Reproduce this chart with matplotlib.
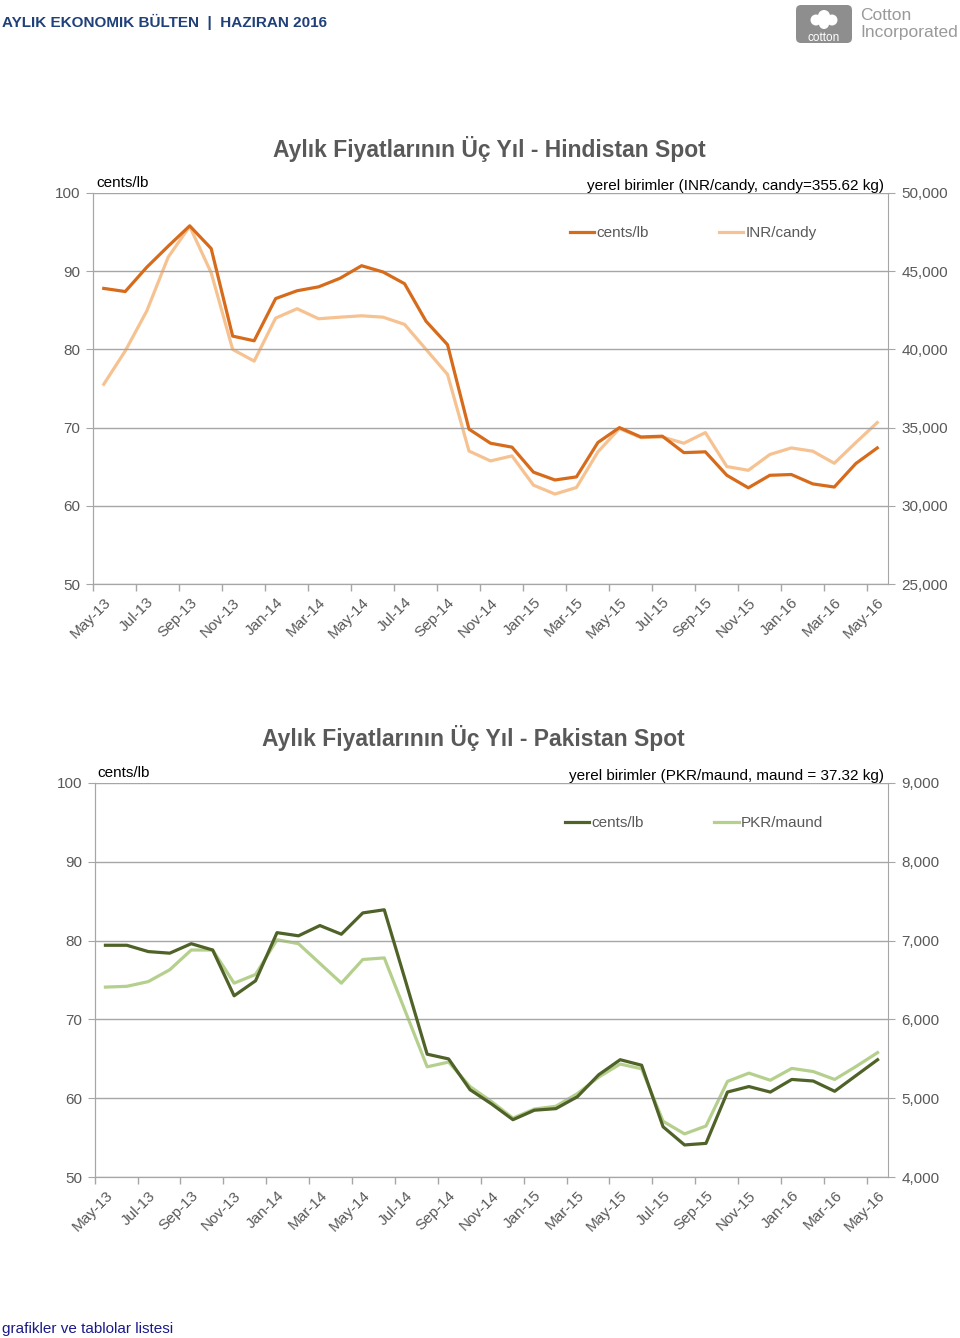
import numpy as np
import matplotlib.pyplot as plt
from matplotlib.patches import FancyBboxPatch, Circle
from matplotlib.ticker import FuncFormatter

plt.rcParams['font.family'] = ['Liberation Sans', 'DejaVu Sans']

months = ['May-13', 'Jun-13', 'Jul-13', 'Aug-13', 'Sep-13', 'Oct-13', 'Nov-13', 'Dec-13',
          'Jan-14', 'Feb-14', 'Mar-14', 'Apr-14', 'May-14', 'Jun-14', 'Jul-14', 'Aug-14',
          'Sep-14', 'Oct-14', 'Nov-14', 'Dec-14', 'Jan-15', 'Feb-15', 'Mar-15', 'Apr-15',
          'May-15', 'Jun-15', 'Jul-15', 'Aug-15', 'Sep-15', 'Oct-15', 'Nov-15', 'Dec-15',
          'Jan-16', 'Feb-16', 'Mar-16', 'Apr-16', 'May-16']

# India spot
india_cents = [87.8, 87.4, 90.5, 93.2, 95.8, 92.9, 81.7, 81.1, 86.5, 87.5, 88.0, 89.1,
               90.7, 89.9, 88.4, 83.6, 80.6, 69.8, 68.0, 67.5, 64.3, 63.3, 63.7, 68.1,
               70.0, 68.8, 68.9, 66.8, 66.9, 63.9, 62.3, 63.9, 64.0, 62.8, 62.4, 65.4, 67.4]
india_inr = [37770, 39900, 42450, 45900, 47870, 44900, 40000, 39250, 42000, 42600, 41960,
             42060, 42150, 42060, 41600, 40000, 38400, 33500, 32870, 33190, 31320, 30750,
             31170, 33450, 34940, 34360, 34400, 34000, 34680, 32510, 32270, 33280, 33700,
             33490, 32720, 34040, 35320]

# Pakistan spot
pak_cents = [79.4, 79.4, 78.6, 78.4, 79.6, 78.8, 73.0, 74.9, 81.0, 80.6, 81.9, 80.8,
             83.5, 83.9, 74.8, 65.6, 65.0, 61.1, 59.3, 57.3, 58.5, 58.7, 60.2, 63.0,
             64.9, 64.2, 56.4, 54.1, 54.3, 60.8, 61.5, 60.8, 62.4, 62.2, 60.9, 62.9, 64.9]
pak_pkr = [6410, 6420, 6480, 6630, 6880, 6880, 6460, 6570, 7010, 6960, 6710, 6460, 6760,
           6780, 6090, 5400, 5460, 5150, 4960, 4750, 4865, 4900, 5060, 5270, 5435, 5375,
           4710, 4550, 4650, 5215, 5320, 5230, 5380, 5340, 5240, 5405, 5580]

GRAY = '#595959'
GRID = '#a6a6a6'

fig = plt.figure(figsize=(9.6, 13.38), dpi=100)

# header and footer
fig.text(2 / 960, 1 - 22 / 1338, 'AYLIK EKONOMIK BÜLTEN  |  HAZIRAN 2016', fontsize=11,
         fontweight='bold', color='#20407a', va='center', ha='left')
fig.text(2 / 960, 1 - 1329 / 1338, 'grafikler ve tablolar listesi', fontsize=11,
         color='#1a1a8a', va='center', ha='left')

# logo
logo = fig.add_axes([795 / 960, 1 - 45 / 1338, 165 / 960, 42 / 1338])
logo.set_xlim(0, 165)
logo.set_ylim(0, 42)
logo.axis('off')
logo.add_patch(FancyBboxPatch((1, 2), 56, 38, boxstyle='round,pad=0,rounding_size=5',
                              fc='#8e8e8e', ec='none'))
for cx, cy, r in [(29, 29, 6), (21, 25, 5.5), (37, 25, 5.5), (29, 21, 5)]:
    logo.add_patch(Circle((cx, cy), r, fc='white', ec='none'))
logo.text(29, 7, 'cotton', fontsize=8.5, color='white', ha='center', va='center')
logo.text(65, 30, 'Cotton', fontsize=12.5, color='#9a9a9a', ha='left', va='center')
logo.text(65, 12, 'Incorporated', fontsize=12.5, color='#9a9a9a', ha='left', va='center')


def make_chart(rect, cents, local, title, local_label, legend_label, right_lim, right_step,
               c_dark, c_light, title_pos):
    x = np.arange(len(months))
    ax = fig.add_axes(rect)
    ax2 = ax.twinx()
    ax.set_zorder(ax2.get_zorder() + 1)
    ax.patch.set_visible(False)

    h1, = ax.plot(x, cents, color=c_dark, lw=2.3, zorder=3)
    h2, = ax2.plot(x, local, color=c_light, lw=2.3, zorder=2)

    ax.set_xlim(-0.5, len(months) - 0.5)
    ax.set_ylim(50, 100)
    ax.set_yticks(np.arange(50, 101, 10))
    ax2.set_ylim(*right_lim)
    ax2.set_yticks(np.arange(right_lim[0], right_lim[1] + 1, right_step))
    ax2.yaxis.set_major_formatter(FuncFormatter(lambda v, p: f'{int(v):,}'))

    # tick marks between categories, labels on every other month
    ax.set_xticks(np.arange(-0.5, len(months), 2))
    ax.set_xticks(x[::2], minor=True)
    ax.set_xticklabels([])
    ax.set_xticklabels(months[::2], minor=True, rotation=45, ha='right',
                       rotation_mode='anchor', fontsize=11, color=GRAY)
    ax.tick_params(axis='x', which='major', length=5, color=GRID, width=1)
    ax.tick_params(axis='x', which='minor', length=0, pad=8)
    ax.tick_params(axis='y', length=5, color=GRID, labelsize=11, labelcolor=GRAY, pad=4)
    ax2.tick_params(axis='y', length=5, color=GRID, labelsize=11, labelcolor=GRAY, pad=4.5)

    ax.yaxis.grid(True, color=GRID, lw=1)
    for a in (ax, ax2):
        a.spines['top'].set_visible(False)
        for s in ('left', 'right', 'bottom'):
            a.spines[s].set_color(GRID)
    ax.spines['right'].set_visible(False)

    ax.text(0.004, 1.008, 'cents/lb', transform=ax.transAxes, fontsize=11,
            ha='left', va='bottom')
    ax.text(0.995, 1.0, local_label, transform=ax.transAxes, fontsize=11,
            ha='right', va='bottom')
    fig.text(title_pos[0] / 960, 1 - title_pos[1] / 1338, title, fontsize=16.5,
             fontweight='bold', color=GRAY, ha='center', va='center')

    ax.legend([h1, h2], ['cents/lb', legend_label],
              loc='center', bbox_to_anchor=(0.755, 0.898), ncol=2, frameon=False,
              fontsize=11, labelcolor=GRAY, handlelength=1.6, handletextpad=0.15,
              columnspacing=4.6)


make_chart([93 / 960, 1 - 584 / 1338, 795 / 960, 391 / 1338], india_cents, india_inr,
           'Aylık Fiyatlarının Üç Yıl - Hindistan Spot',
           'yerel birimler (INR/candy, candy=355.62 kg)', 'INR/candy', (25000, 50000), 5000,
           '#d76b1c', '#f6c291', (489, 149))

make_chart([94.7 / 960, 1 - 1177.3 / 1338, 793.6 / 960, 394.6 / 1338], pak_cents, pak_pkr,
           'Aylık Fiyatlarının Üç Yıl - Pakistan Spot',
           'yerel birimler (PKR/maund, maund = 37.32 kg)', 'PKR/maund', (4000, 9000), 1000,
           '#4f6228', '#b5d08d', (473, 738))

fig.savefig('out.png', dpi=100)
